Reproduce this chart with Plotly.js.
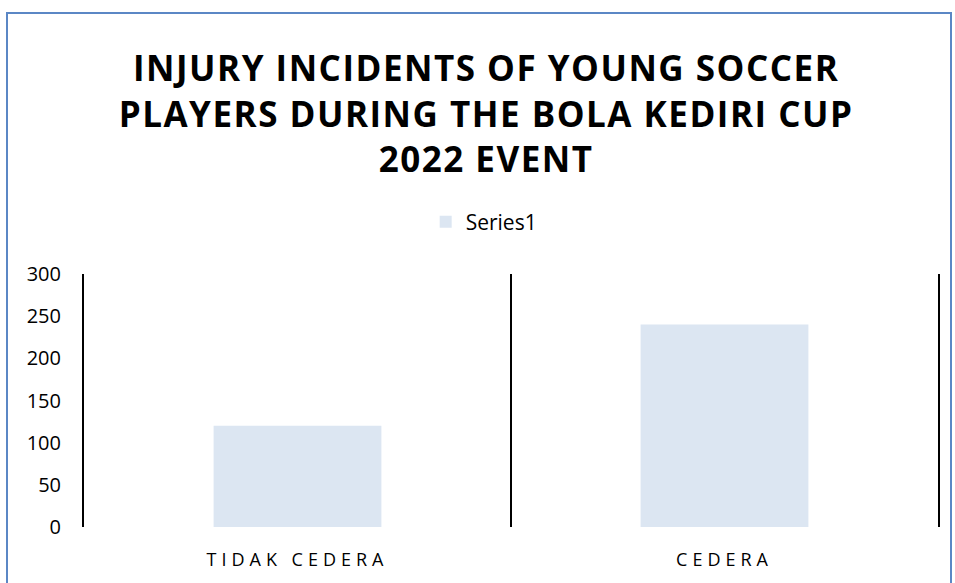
<!DOCTYPE html>
<html>
<head>
<meta charset="utf-8">
<script src="https://cdn.plot.ly/plotly-3.0.1.min.js"></script>
<style>
  html, body { margin: 0; padding: 0; background: #ffffff; overflow: hidden; }
  #wrap { position: relative; width: 955px; height: 583px; }
  #frame { position: absolute; left: 6px; top: 12px; width: 946px; height: 600px;
           border: 2px solid #5B87C5; box-sizing: border-box; pointer-events: none; z-index: 2; }
  #chart { position: absolute; left: 0; top: 0; width: 955px; height: 583px; }
  .xtick text { letter-spacing: 5px; }
  .gtitle { letter-spacing: 1.5px; }
</style>
</head>
<body>
<div id="wrap">
  <div id="chart"></div>
  <div id="frame"></div>
</div>
<script>
const categories = ["TIDAK CEDERA", "CEDERA"];
const series1 = [120, 240];
const seriesName = "Series1";
const yTicks = [0, 50, 100, 150, 200, 250, 300];
const titleText = "INJURY INCIDENTS OF YOUNG SOCCER<br>PLAYERS DURING THE BOLA KEDIRI CUP<br>2022 EVENT";

const trace = {
  type: "bar",
  x: categories,
  y: series1,
  name: seriesName,
  marker: { color: "#DCE6F2" },
  showlegend: true,
  hoverinfo: "x+y"
};

const layout = {
  width: 955,
  height: 583,
  paper_bgcolor: "rgba(0,0,0,0)",
  plot_bgcolor: "#ffffff",
  margin: { l: 84, r: 17, t: 274, b: 56 },
  bargap: 0.607,
  font: { family: "Open Sans, sans-serif", color: "#000000" },
  title: {
    text: titleText,
    font: { family: "Open Sans, sans-serif", size: 35, weight: 700, color: "#000000" },
    x: 0.509,
    xanchor: "center",
    xref: "container",
    y: 1 - 81 / 583,
    yanchor: "middle",
    yref: "container"
  },
  showlegend: true,
  legend: {
    orientation: "h",
    x: 0.468,
    xanchor: "center",
    y: 1 + 52 / 253,
    yanchor: "middle",
    font: { family: "Open Sans, sans-serif", size: 21, color: "#000000" },
    bgcolor: "rgba(0,0,0,0)"
  },
  xaxis: {
    type: "category",
    tickson: "boundaries",
    showgrid: true,
    gridcolor: "#000000",
    gridwidth: 2,
    ticks: "",
    showline: false,
    zeroline: false,
    tickfont: { family: "Open Sans, sans-serif", size: 18, color: "#000000" },
    ticklabelstandoff: 20
  },
  yaxis: {
    range: [0, 300],
    tickvals: yTicks,
    showgrid: false,
    zeroline: false,
    showline: true,
    mirror: true,
    linecolor: "#000000",
    linewidth: 2,
    ticks: "",
    tickfont: { family: "Open Sans, sans-serif", size: 20, color: "#000000" },
    ticklabelstandoff: 17
  }
};

Plotly.newPlot("chart", [trace], layout, { displayModeBar: false, staticPlot: false });
</script>
</body>
</html>
